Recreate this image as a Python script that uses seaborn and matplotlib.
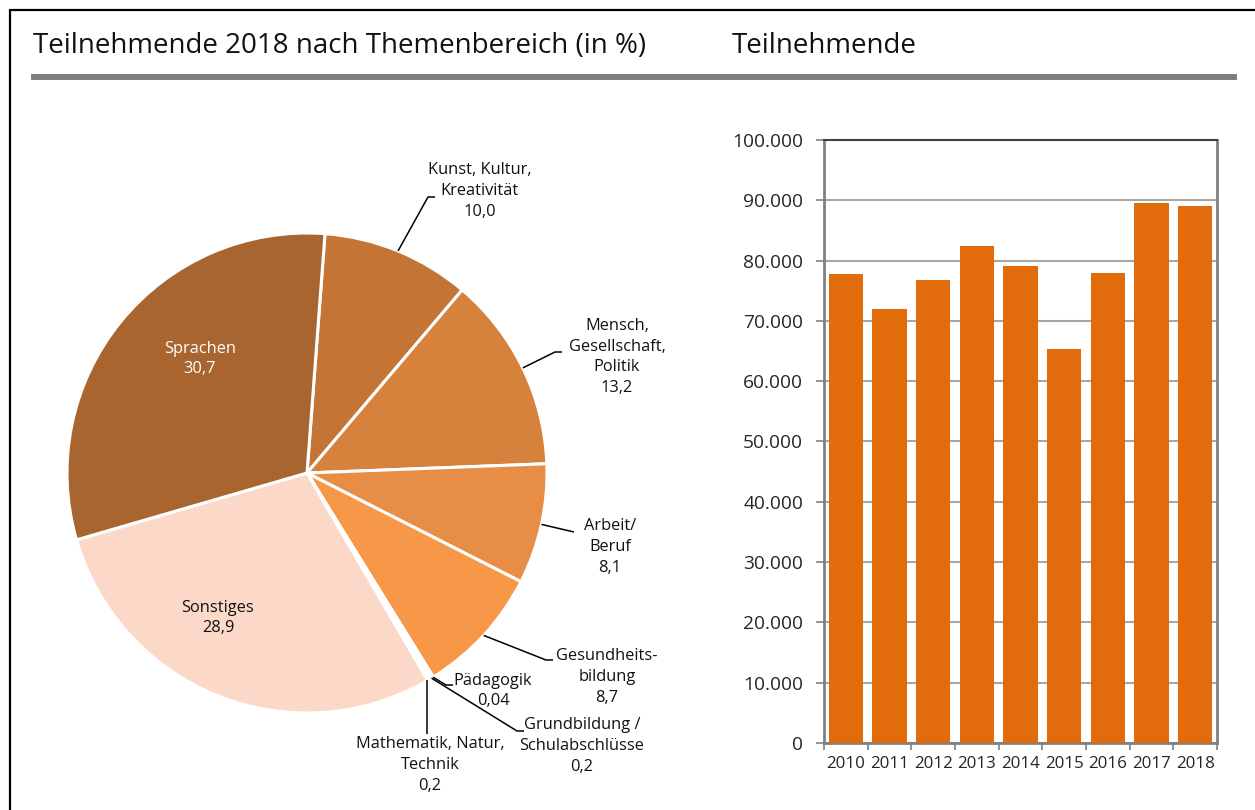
import numpy as np
import pandas as pd
import matplotlib
matplotlib.use("Agg")
import matplotlib.pyplot as plt
from matplotlib.lines import Line2D
from matplotlib.patches import Rectangle
from matplotlib.ticker import FuncFormatter
import seaborn as sns

# ---------------- data ----------------
pie_labels = ["Kunst, Kultur,\nKreativität", "Mensch,\nGesellschaft,\nPolitik", "Arbeit/\nBeruf",
              "Gesundheits-\nbildung", "Pädagogik", "Grundbildung /\nSchulabschlüsse",
              "Mathematik, Natur,\nTechnik", "Sonstiges", "Sprachen"]
pie_values = [10.0, 13.2, 8.1, 8.7, 0.04, 0.2, 0.2, 28.9, 30.7]
pie_value_text = ["10,0", "13,2", "8,1", "8,7", "0,04", "0,2", "0,2", "28,9", "30,7"]
pie_colors = ["#C47535", "#D6813C", "#E88D45", "#F79848", "#EFEFEF", "#EFEFEF", "#EFEFEF",
              "#FCD8C8", "#A8652F"]

years = ["2010", "2011", "2012", "2013", "2014", "2015", "2016", "2017", "2018"]
participants = [77800, 72000, 76800, 82400, 79100, 65300, 77900, 89550, 89050]
y_ticks = [0, 10000, 20000, 30000, 40000, 50000, 60000, 70000, 80000, 90000, 100000]

title_left = "Teilnehmende 2018 nach Themenbereich (in %)"
title_right = "Teilnehmende"

# ---------------- style ----------------
sns.set_theme(style="white")
plt.rcParams['font.family'] = ['Open Sans', 'DejaVu Sans']
plt.rcParams['text.color'] = '#111111'

W, H = 1255, 810
fig = plt.figure(figsize=(W / 100, H / 100), dpi=100)
fig.patch.set_facecolor("white")

def fx(px):
    return px / W

def fy(py):
    return 1 - py / H

# frame lines and title rule
fig.add_artist(Line2D([fx(10), fx(10)], [fy(10), fy(812)], color="black", lw=1.6))
fig.add_artist(Line2D([fx(10), fx(1256)], [fy(10), fy(10)], color="black", lw=1.6))
fig.add_artist(Rectangle((fx(31), fy(80)), fx(1237) - fx(31), fy(74) - fy(80),
                         facecolor="#808080", edgecolor="none"))
fig.text(fx(33), fy(46), title_left, fontsize=20, va="center", ha="left")
fig.text(fx(732), fy(46), title_right, fontsize=20, va="center", ha="left")

# ---------------- pie ----------------
R = 240.0
cx, cy = 307, 473
x0, x1 = -1.2, 1.6
y0, y1 = -1.4, 1.4
axp = fig.add_axes([fx(cx + x0 * R), fy(cy - y0 * R), (x1 - x0) * R / W, (y1 - y0) * R / H])
wedges, _ = axp.pie(pie_values, colors=pie_colors, startangle=85.7, counterclock=False,
                    radius=1.0, wedgeprops=dict(edgecolor="white", linewidth=2.2))
axp.set_xlim(x0, x1)
axp.set_ylim(y0, y1)
axp.axis("off")

def d(px, py):
    return ((px - cx) / R, (cy - py) / R)

def edge_point(w):
    ang = np.deg2rad((w.theta1 + w.theta2) / 2)
    return np.cos(ang), np.sin(ang)

# label layout: (text center px, leader elbow px list)
layout = {
    0: ((480, 191), [(428, 197), (435, 197)]),
    1: ((617, 357), [(555, 352), (562, 352)]),
    2: ((610, 547), [(574, 532)]),
    3: ((607, 677), [(546, 660), (553, 660)]),
    4: ((493, 691), [(446, 685), (453, 685)]),
    5: ((582, 746), [(517, 731), (524, 731)]),
    6: ((430, 765), [(427, 734)]),
}
lab_fs = 11.8
lsp = 1.4
for i, (pos, pts) in layout.items():
    ex, ey = edge_point(wedges[i])
    xs = [ex] + [d(*p)[0] for p in pts]
    ys = [ey] + [d(*p)[1] for p in pts]
    if i == 6:
        xs[0] = xs[1]
    axp.plot(xs, ys, color="black", lw=1.1, solid_capstyle="butt")
    tx, ty = d(*pos)
    axp.text(tx, ty, pie_labels[i] + "\n" + pie_value_text[i], ha="center", va="center",
             fontsize=lab_fs, linespacing=lsp)

tx, ty = d(200, 359)
axp.text(tx, ty, pie_labels[8] + "\n" + pie_value_text[8], ha="center", va="center",
         fontsize=lab_fs, color="white", linespacing=lsp)
tx, ty = d(218, 618)
axp.text(tx, ty, pie_labels[7] + "\n" + pie_value_text[7], ha="center", va="center",
         fontsize=lab_fs, color="#111111", linespacing=lsp)

# ---------------- bars ----------------
axb = fig.add_axes([fx(824), fy(743), (1217 - 824) / W, (743 - 140) / H])
df = pd.DataFrame({"Jahr": years, "Teilnehmende": participants})
sns.barplot(data=df, x="Jahr", y="Teilnehmende", ax=axb, color="#E26B0B", saturation=1,
            width=0.78, edgecolor="none", zorder=3)
axb.set_xlim(-0.5, len(years) - 0.5)
axb.set_ylim(0, 100000)
axb.set_yticks(y_ticks)
axb.yaxis.set_major_formatter(FuncFormatter(lambda v, p: f"{int(v):,}".replace(",", ".")))
axb.grid(axis="y", color="#A6A6A6", lw=1.5, zorder=0)
axb.set_axisbelow(True)
axb.set_xlabel("")
axb.set_ylabel("")
axb.set_xticks(np.arange(-0.5, len(years), 1.0))
axb.set_xticklabels([])
axb.set_xticks(np.arange(len(years)), minor=True)
axb.set_xticklabels(years, minor=True)
axb.tick_params(axis="x", which="major", length=5, width=1.2, color="#808080", direction="out", bottom=True)
axb.tick_params(axis="x", which="minor", length=0, pad=9, labelsize=12.2, bottom=True)
axb.tick_params(axis="y", length=6, width=1.2, color="#808080", direction="out", left=True,
                pad=9, labelsize=13.8)
for s in ["left", "bottom", "right"]:
    axb.spines[s].set_color("#808080")
    axb.spines[s].set_linewidth(2)
axb.spines["top"].set_color("#404040")
axb.spines["top"].set_linewidth(1.5)

fig.savefig("out.png", dpi=100, facecolor="white")
